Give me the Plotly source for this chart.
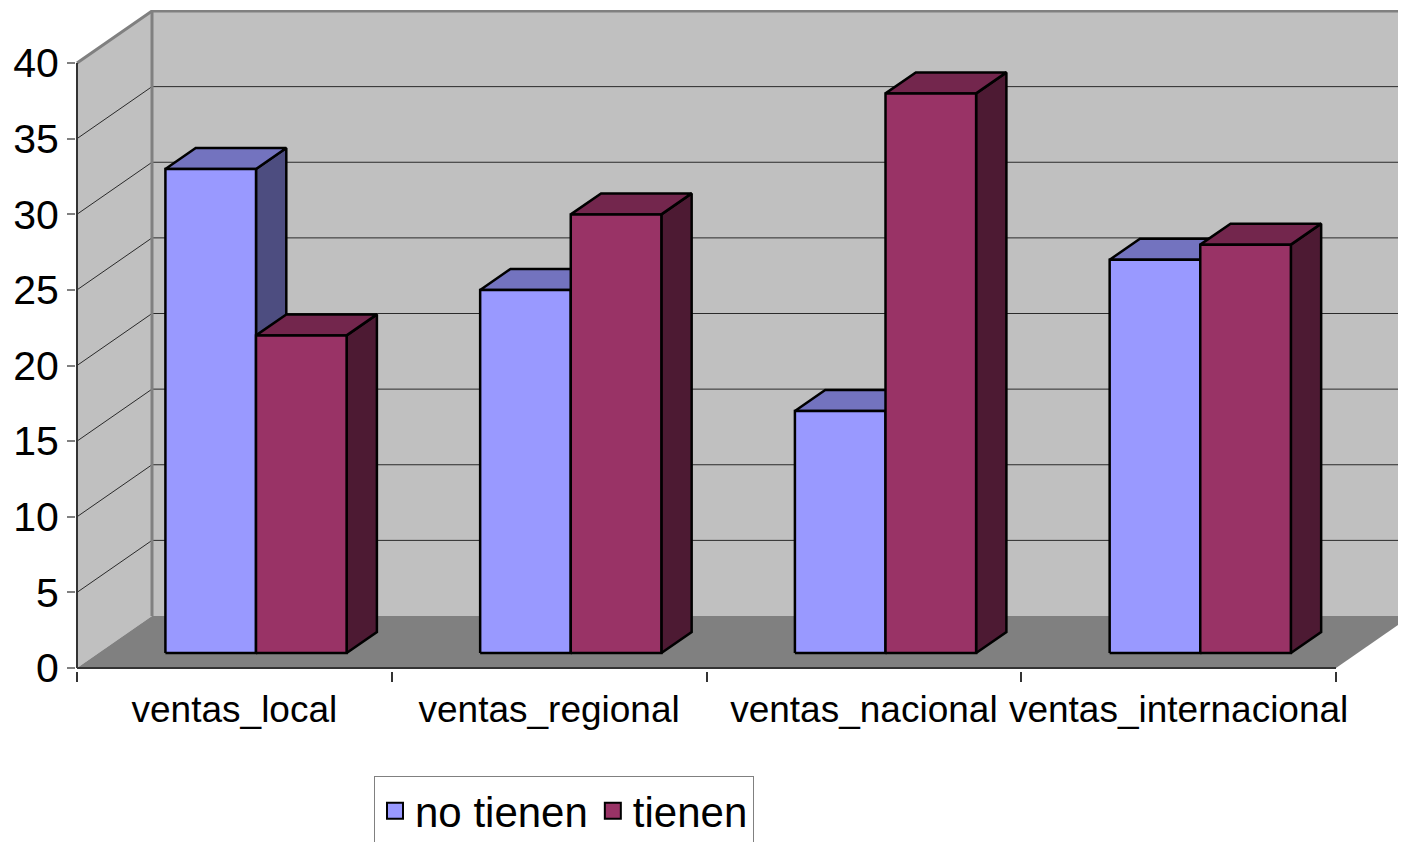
import plotly.graph_objects as go

# ---------------- data ----------------
categories = ["ventas_local", "ventas_regional", "ventas_nacional", "ventas_internacional"]
no_tienen = [32, 24, 16, 26]
tienen = [21, 29, 37, 27]
series_names = ["no tienen", "tienen"]
y_ticks = [0, 5, 10, 15, 20, 25, 30, 35, 40]

# ---------------- styles ----------------
FRONT = ["#9999FF", "#993366"]
TOP = ["#7373BF", "#73264D"]
SIDE = ["#4D4D80", "#4D1A33"]
WALL = "#C0C0C0"
FLOOR = "#808080"
EDGE = "#808080"
FONT = "Liberation Sans, Arial, sans-serif"

# ---------------- geometry (layout) ----------------
W, H = 1406, 842
OFF = 8                                           # page body margin
PX_L, PX_R, PX_T, PX_B = 76 - OFF, 1406, 10 - OFF, 671 - OFF   # plot area
X0_PX, Y0_PX = 77 - OFF, 668 - OFF                # pixel of the front origin
PX_PER_CAT = 314.75
PX_PER_UNIT = 15.125

x_min = -0.5 - (X0_PX - PX_L) / PX_PER_CAT
x_max = -0.5 + (PX_R - X0_PX) / PX_PER_CAT
y_min = -(PX_B - Y0_PX) / PX_PER_UNIT
y_max = (Y0_PX - PX_T) / PX_PER_UNIT

y_top = y_ticks[-1]
n = len(categories)
DX = 75 / PX_PER_CAT            # total depth of the box (x units)
DY = 52 / PX_PER_UNIT           # total depth of the box (y units)
F0, FD = 15 / 52, 21 / 52       # bar front offset and bar depth (fractions)
BX0, BY0 = DX * F0, DY * F0
BDX, BDY = DX * FD, DY * FD
BAR_W = 90.6 / PX_PER_CAT

fig = go.Figure()

def poly(xs, ys, color, line_color=None, line_width=0):
    fig.add_trace(go.Scatter(
        x=xs, y=ys, mode="lines", fill="toself", fillcolor=color,
        line=dict(color=line_color or color, width=line_width),
        hoverinfo="skip", showlegend=False))

def lines(xs, ys, color, width):
    fig.add_trace(go.Scatter(
        x=xs, y=ys, mode="lines", line=dict(color=color, width=width),
        hoverinfo="skip", showlegend=False))

xl = -0.5
xr = n - 0.5
far = x_max + 0.2

# back wall, left wall, floor
poly([xl + DX, far, far, xl + DX], [DY, DY, y_top + DY, y_top + DY], WALL)
poly([xl, xl + DX, xl + DX, xl], [0, DY, y_top + DY, y_top], WALL)
poly([xl, xr, xr + DX, xl + DX], [0, 0, DY, DY], FLOOR)

# gridlines
gx, gy = [], []
for v in y_ticks[1:-1]:
    gx += [xl, xl + DX, far, None]
    gy += [v, v + DY, v + DY, None]
lines(gx, gy, "#2a2a2a", 1)

# wall edges
lines([xl + DX, xl + DX, None, xl, xl + DX, far],
      [DY, y_top + DY, None, y_top, y_top + DY, y_top + DY], EDGE, 3)
# front axis line and floor front edge
lines([xl, xl, None, xl, xr], [y_top, 0, None, 0, 0], "#333333", 2)

# bars
def bar_faces(values, k):
    fx, fy, tx, ty, sx, sy = [], [], [], [], [], []
    for i, v in enumerate(values):
        xc = i + BX0
        x0 = xc - BAR_W if k == 0 else xc
        x1 = x0 + BAR_W
        b, t = BY0, BY0 + v
        fx += [x0, x1, x1, x0, x0, None]
        fy += [b, b, t, t, b, None]
        tx += [x0, x1, x1 + BDX, x0 + BDX, x0, None]
        ty += [t, t, t + BDY, t + BDY, t, None]
        sx += [x1, x1 + BDX, x1 + BDX, x1, x1, None]
        sy += [b, b + BDY, t + BDY, t, b, None]
    return (fx, fy), (tx, ty), (sx, sy)

for k, vals in enumerate([no_tienen, tienen]):
    (fx, fy), (tx, ty), (sx, sy) = bar_faces(vals, k)
    poly(sx, sy, SIDE[k], "black", 2.5)
    poly(tx, ty, TOP[k], "black", 2.5)
    poly(fx, fy, FRONT[k], "black", 2.5)

# legend entries
for k, name in enumerate(series_names):
    fig.add_trace(go.Scatter(
        x=[None], y=[None], mode="markers", name=name,
        marker=dict(symbol="square", size=16, color=FRONT[k],
                    line=dict(color="black", width=2))))

plot_h = PX_B - PX_T
plot_w = PX_R - PX_L
fig.update_layout(
    width=W, height=H, autosize=False,
    margin=dict(l=PX_L, r=W - PX_R, t=PX_T, b=H - PX_B, pad=0),
    paper_bgcolor="white", plot_bgcolor="white",
    font=dict(family=FONT, color="black"),
    xaxis=dict(
        range=[x_min, x_max], showgrid=False, zeroline=False, showline=False,
        tickmode="array", tickvals=list(range(n)), ticktext=categories,
        ticks="", tickfont=dict(size=37, family=FONT, color="black"),
        ticklabelstandoff=13,
        minor=dict(tickmode="linear", tick0=-0.5, dtick=1, ticks="outside",
                   ticklen=10, tickwidth=1.5, tickcolor="#333333"),
        fixedrange=True),
    yaxis=dict(
        range=[y_min, y_max], showgrid=False, zeroline=False, showline=False,
        tickmode="array", tickvals=y_ticks, ticks="outside", ticklen=8,
        tickwidth=2, tickcolor="#808080",
        tickfont=dict(size=41, family=FONT, color="black"),
        fixedrange=True),
    legend=dict(
        orientation="h", x=(374 - OFF - PX_L) / plot_w, xanchor="left",
        y=(PX_B - (776 - OFF)) / plot_h, yanchor="top",
        bgcolor="white", bordercolor="#808080", borderwidth=1,
        font=dict(size=42, family=FONT, color="black")),
    showlegend=True,
)

fig.write_html("out.html")
